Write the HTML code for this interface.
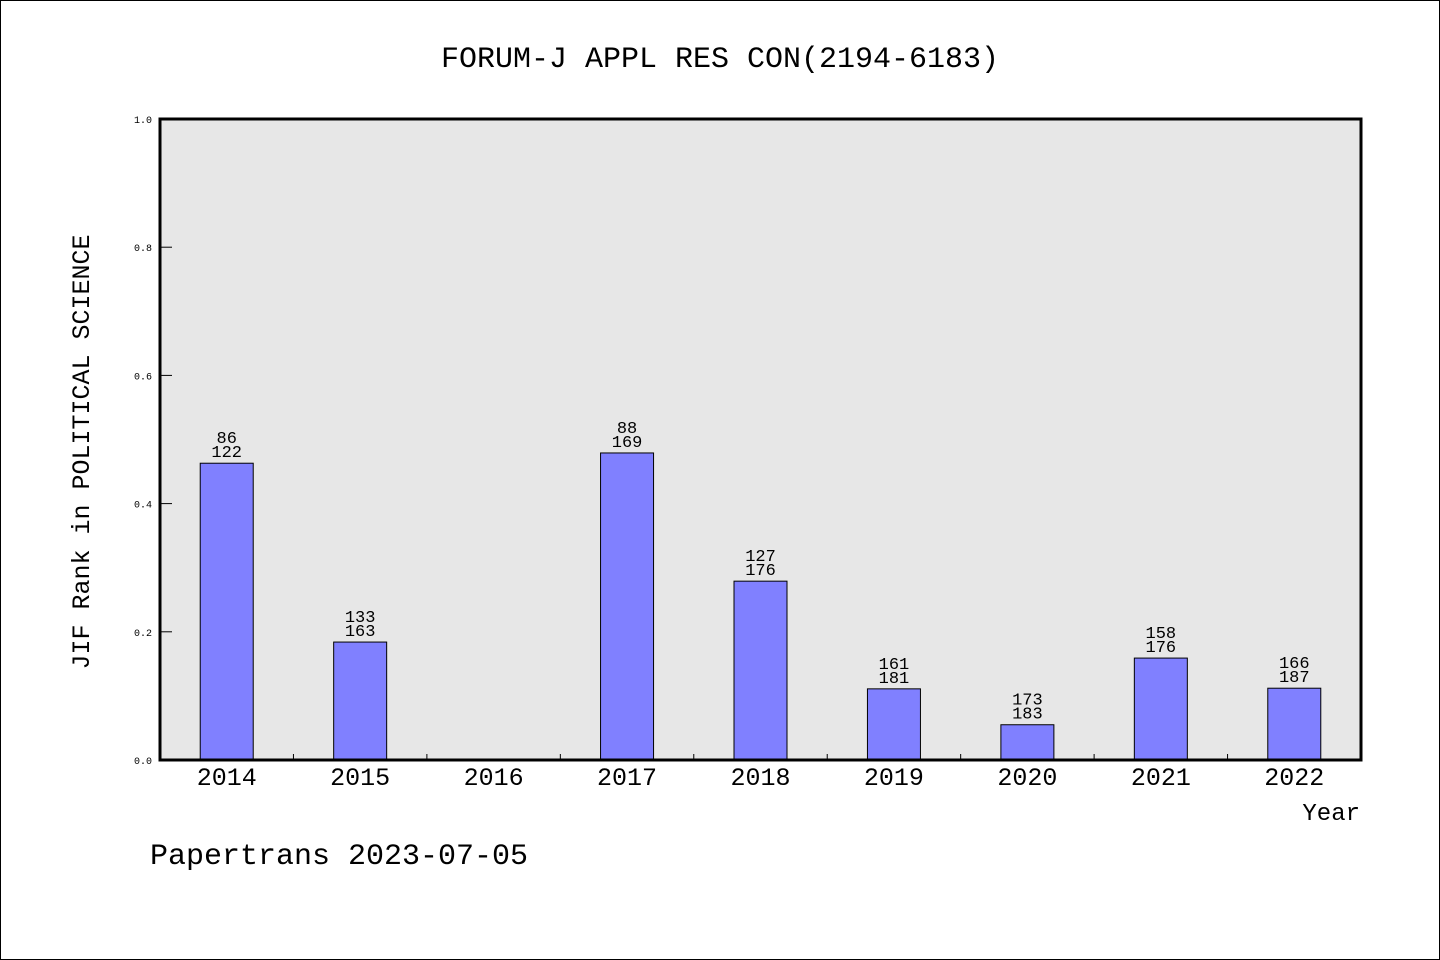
<!DOCTYPE html>
<html><head><meta charset="utf-8"><style>
html,body{margin:0;padding:0;background:#fff}
svg{display:block}
text{font-family:"Liberation Mono","WenQuanYi Zen Hei",monospace;fill:#000}
</style></head><body>
<svg id="chart" width="1440" height="960">
<rect x="0.5" y="0.5" width="1439" height="959" fill="#fff" stroke="#000"/>
<text x="720" y="67" text-anchor="middle" font-size="30">FORUM-J APPL RES CON(2194-6183)</text>
<rect x="160" y="119" width="1201" height="641" fill="#e7e7e7"/>
<g id="bars"></g>
<g id="yaxis"></g>
<g id="xaxis"></g>
<rect x="160" y="119" width="1201" height="641" fill="none" stroke="#000" stroke-width="3"/>
<text transform="translate(89,452) rotate(-90)" text-anchor="middle" font-size="25">JIF Rank in POLITICAL SCIENCE</text>
<text x="1360" y="820" text-anchor="end" font-size="24">Year</text>
<text x="150" y="864" font-size="30">Papertrans 2023-07-05</text>
</svg>
<script>
const categories=["2014","2015","2016","2017","2018","2019","2020","2021","2022"];
const values=[0.463,0.184,null,0.479,0.279,0.111,0.055,0.159,0.112];
const ranks=["86","133",null,"88","127","161","173","158","166"];
const totals=["122","163",null,"169","176","181","183","176","187"];
const yTicks=[0,0.2,0.4,0.6,0.8,1.0];
const yTickLabels=["0.0","0.2","0.4","0.6","0.8","1.0"];
const NS="http://www.w3.org/2000/svg";
const X0=160,X1=1361,Y0=760,Y1=119;
const band=(X1-X0)/categories.length;
const xc=i=>X0+band*(i+0.5);
const ys=v=>Y0-(v)*(Y0-Y1);
function mk(tag,attrs,parent,txt){const e=document.createElementNS(NS,tag);for(const k in attrs)e.setAttribute(k,attrs[k]);if(txt!=null)e.textContent=txt;parent.appendChild(e);return e;}
const gb=document.getElementById('bars'),gy=document.getElementById('yaxis'),gx=document.getElementById('xaxis');
const bw=53;
categories.forEach((c,i)=>{
  if(values[i]!=null){
    const r=mk('rect',{x:xc(i)-bw/2,y:ys(values[i]),width:bw,height:Y0-ys(values[i]),fill:'#8080ff',stroke:'#000','stroke-width':1},gb);
    
    
    const t1=mk('text',{x:xc(i),y:ys(values[i])-20,'text-anchor':'middle','font-size':17},gb,ranks[i]);
    
    
    const t2=mk('text',{x:xc(i),y:ys(values[i])-6,'text-anchor':'middle','font-size':17},gb,totals[i]);
    
    
  }
  const tl=mk('text',{x:xc(i),y:785,'text-anchor':'middle','font-size':25},gx,c);
  
  
  if(i>0){
    const tk=mk('line',{x1:X0+band*i,x2:X0+band*i,y1:Y0,y2:Y0-6,stroke:'#000','stroke-width':1},gx);
    
    
  }
});
yTicks.forEach((v,i)=>{
  const tk=mk('line',{x1:X0,x2:X0+12,y1:ys(v),y2:ys(v),stroke:'#000','stroke-width':1},gy);
  
  
  const tl=mk('text',{x:152,y:ys(v)+4,'text-anchor':'end','font-size':10},gy,yTickLabels[i]);
  
  
});
</script>
</body></html>
